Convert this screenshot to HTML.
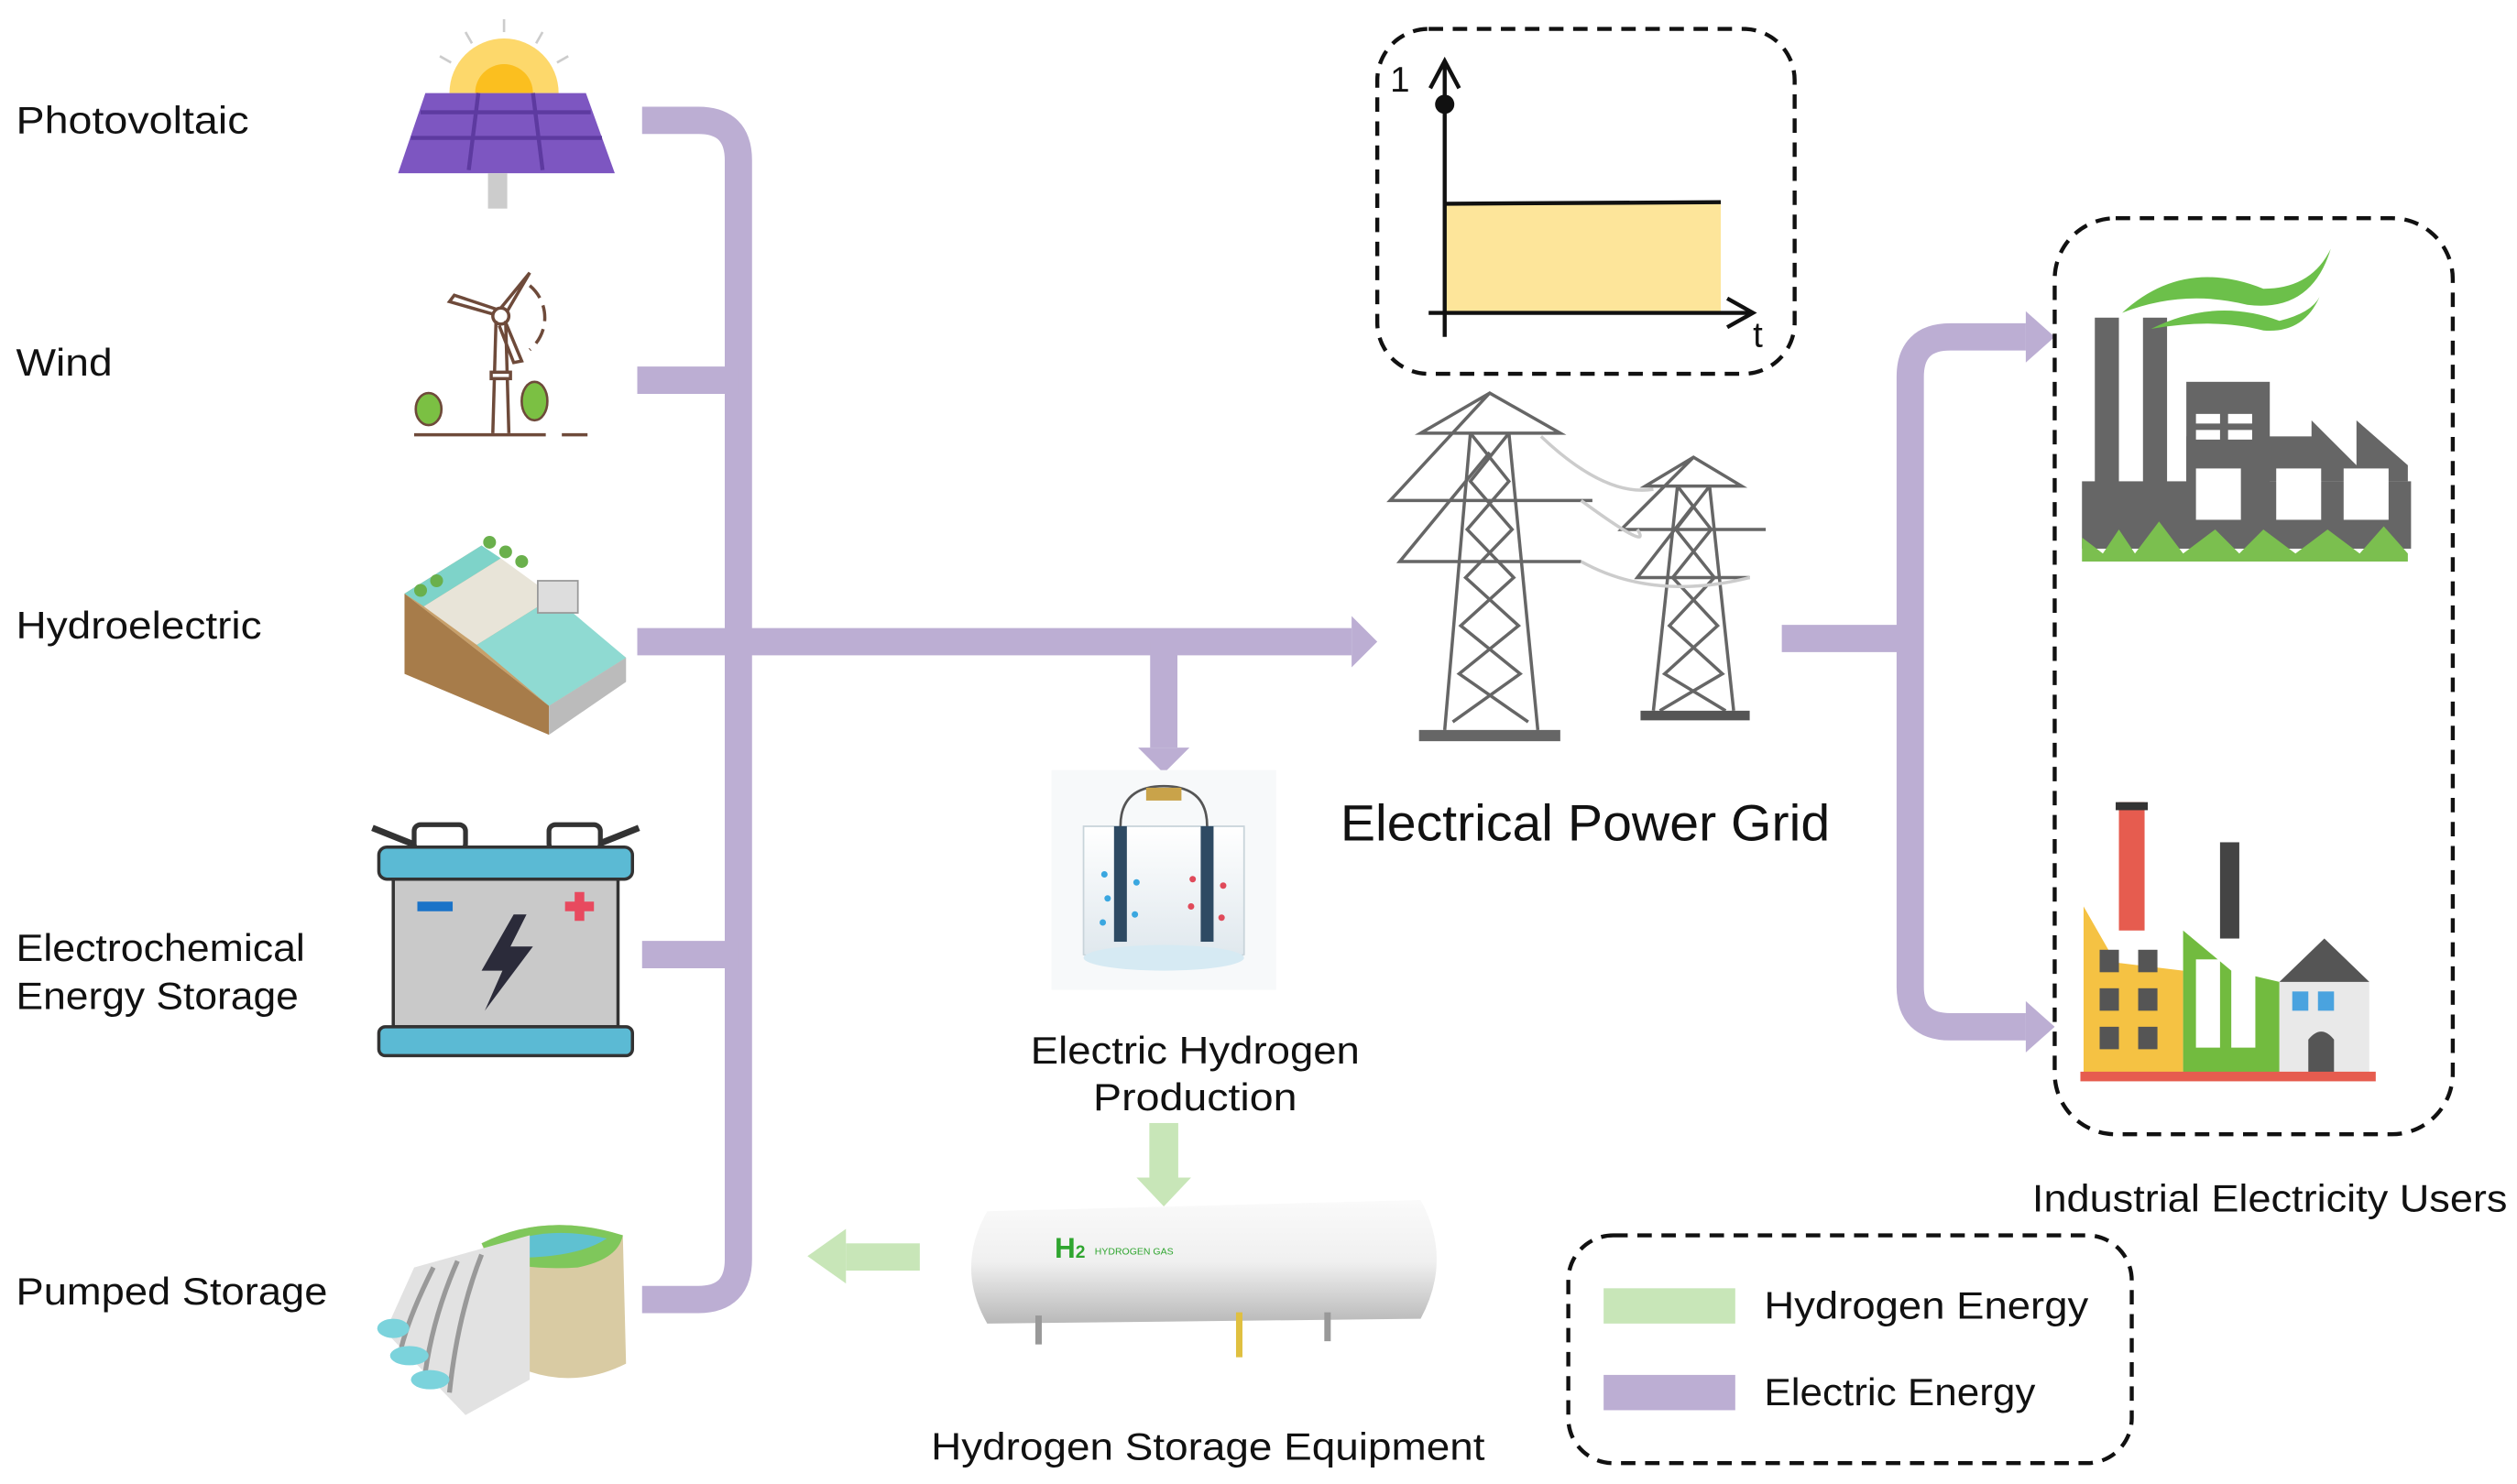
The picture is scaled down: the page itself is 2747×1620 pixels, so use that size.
<!DOCTYPE html>
<html><head><meta charset="utf-8">
<style>
html,body{margin:0;padding:0;background:#fff;}
svg{display:block;}
text{font-family:"Liberation Sans","DejaVu Sans",sans-serif;fill:#111;}
</style></head>
<body>
<svg width="2747" height="1620" viewBox="0 0 1568 925" preserveAspectRatio="none" xmlns="http://www.w3.org/2000/svg">
<defs>
<linearGradient id="tank" x1="0" y1="0" x2="0" y2="1">
<stop offset="0" stop-color="#fafafa"/><stop offset="0.5" stop-color="#f0f0f0"/><stop offset="1" stop-color="#b9b9b9"/>
</linearGradient>
<linearGradient id="beak" x1="0" y1="0" x2="0" y2="1">
<stop offset="0" stop-color="#ffffff"/><stop offset="1" stop-color="#dde6ec"/>
</linearGradient>
</defs>

<!-- labels left -->
<g font-size="24" lengthAdjust="spacingAndGlyphs">
<text x="10" y="83" textLength="145" lengthAdjust="spacingAndGlyphs">Photovoltaic</text>
<text x="10" y="234" textLength="60" lengthAdjust="spacingAndGlyphs">Wind</text>
<text x="10" y="398" textLength="153" lengthAdjust="spacingAndGlyphs">Hydroelectric</text>
<text x="10" y="599" textLength="180" lengthAdjust="spacingAndGlyphs">Electrochemical</text>
<text x="10" y="629" textLength="176" lengthAdjust="spacingAndGlyphs">Energy Storage</text>
<text x="10" y="813" textLength="194" lengthAdjust="spacingAndGlyphs">Pumped Storage</text>
</g>

<!-- purple bus -->
<g fill="none" stroke="#bcaed3" stroke-width="17">
<path d="M400 75 H435 Q460 75 460 100 V785 Q460 810 435 810 H400"/>
<path d="M397 237 H460"/>
<path d="M397 400 H842"/>
<path d="M400 595 H460"/>
<path d="M725 400 V466"/>
<path d="M1110 398 H1190"/>
<path d="M1262 210 H1215 Q1190 210 1190 235 V615 Q1190 640 1215 640 H1262"/>
</g>
<g fill="#bcaed3">
<polygon points="842,384 858,400 842,416"/>
<polygon points="709,466 741,466 725,482"/>
<polygon points="1262,194 1280,210 1262,226"/>
<polygon points="1262,624 1280,640 1262,656"/>
</g>
<!-- green arrows -->
<g fill="#c8e6b8">
<rect x="716" y="700" width="18" height="34"/>
<polygon points="708,734 742,734 725,752"/>
<rect x="527" y="775" width="46" height="17"/>
<polygon points="527,766 527,800 503,783"/>
</g>

<!-- solar -->
<g>
<path d="M280 58 A34 34 0 0 1 348 58 Z" fill="#fdd86b"/>
<path d="M296 58 A18 18 0 0 1 332 58 Z" fill="#fbbf1f"/>
<g stroke="#ccc" stroke-width="1.5"><line x1="314" y1="12" x2="314" y2="20"/><line x1="290" y1="20" x2="294" y2="27"/><line x1="338" y1="20" x2="334" y2="27"/><line x1="274" y1="35" x2="281" y2="39"/><line x1="354" y1="35" x2="347" y2="39"/></g>
<polygon points="265,58 365,58 383,108 248,108" fill="#7d56c1"/>
<g stroke="#5d3aa0" stroke-width="2.5"><line x1="262" y1="70" x2="368" y2="70"/><line x1="256" y1="86" x2="375" y2="86"/><line x1="298" y1="58" x2="292" y2="106"/><line x1="332" y1="58" x2="338" y2="106"/></g>
<rect x="304" y="108" width="12" height="22" fill="#ccc"/>
</g>

<!-- wind -->
<g stroke="#6e4a3a" stroke-width="2" fill="none">
<line x1="258" y1="271" x2="340" y2="271"/><line x1="350" y1="271" x2="366" y2="271"/>
<line x1="309" y1="200" x2="307" y2="270"/><line x1="315" y1="200" x2="317" y2="270"/>
<circle cx="312" cy="197" r="5"/>
<path d="M312 192 L330 170 L316 194"/><path d="M308 196 L280 188 L283 184 L310 193"/><path d="M315 201 L325 225 L320 226 L311 203"/>
<path d="M330 178 A26 26 0 0 1 330 218" stroke-dasharray="10 5"/>
<rect x="306" y="232" width="12" height="4" fill="#fff"/>
</g>
<g fill="#7bc043" stroke="#6e4a3a" stroke-width="1.5"><ellipse cx="267" cy="255" rx="8" ry="10"/><ellipse cx="333" cy="250" rx="8" ry="12"/></g>

<!-- hydro -->
<g>
<polygon points="252,370 300,340 390,410 342,440" fill="#c8a06a"/>
<polygon points="252,370 300,340 312,348 264,378" fill="#7ed3c9"/>
<polygon points="264,378 312,348 345,372 297,402" fill="#e8e4d8"/>
<polygon points="297,402 345,372 390,410 342,440" fill="#8fdad2"/>
<polygon points="252,370 252,420 342,458 342,440" fill="#a77c4a"/>
<polygon points="342,440 390,410 390,425 342,458" fill="#bbb"/>
<rect x="335" y="362" width="25" height="20" fill="#ddd" stroke="#999"/>
<g fill="#6ab04c"><circle cx="262" cy="368" r="4"/><circle cx="272" cy="362" r="4"/><circle cx="305" cy="338" r="4"/><circle cx="315" cy="344" r="4"/><circle cx="325" cy="350" r="4"/></g>
</g>

<!-- battery -->
<g>
<path d="M232 516 L262 528 M398 516 L368 528" stroke="#333" stroke-width="4"/>
<rect x="258" y="514" width="32" height="16" rx="4" fill="#fff" stroke="#333" stroke-width="3"/>
<rect x="342" y="514" width="32" height="16" rx="4" fill="#fff" stroke="#333" stroke-width="3"/>
<rect x="236" y="528" width="158" height="20" rx="5" fill="#5bbad4" stroke="#333" stroke-width="2"/>
<rect x="245" y="548" width="140" height="92" fill="#c9c9c9" stroke="#333" stroke-width="2"/>
<rect x="236" y="640" width="158" height="18" rx="4" fill="#5bbad4" stroke="#333" stroke-width="2"/>
<rect x="260" y="562" width="22" height="6" fill="#1a73c8"/>
<path d="M352 565 h18 M361 556 v18" stroke="#e84a5f" stroke-width="6"/>
<polygon points="320,570 300,605 313,605 302,630 332,590 318,590 328,570" fill="#2b2b3a"/>
</g>

<!-- pumped storage -->
<g>
<path d="M300 775 Q340 755 388 770 L390 850 Q360 865 330 855 Z" fill="#d9cba3"/>
<path d="M300 775 Q340 755 388 770 Q385 785 360 790 Q330 792 305 785Z" fill="#7fc75b"/>
<path d="M310 777 Q340 763 378 772 Q360 784 320 784Z" fill="#5fc1d1"/>
<polygon points="258,790 330,770 330,860 290,882 240,830" fill="#e2e2e2"/>
<g stroke="#999" stroke-width="3" fill="none"><path d="M270 790 Q255 820 250 840"/><path d="M285 786 Q270 820 265 855"/><path d="M300 782 Q285 820 280 868"/></g>
<g fill="#7bd3dc"><ellipse cx="245" cy="828" rx="10" ry="6"/><ellipse cx="255" cy="845" rx="12" ry="6"/><ellipse cx="268" cy="860" rx="12" ry="6"/></g>
</g>

<!-- chart box -->
<rect x="858" y="18" width="260" height="215" rx="32" fill="none" stroke="#111" stroke-width="2.5" stroke-dasharray="9 6"/>
<rect x="901" y="127" width="171" height="68" fill="#fde59a"/>
<line x1="901" y1="127" x2="1072" y2="126" stroke="#111" stroke-width="2.5"/>
<line x1="900" y1="40" x2="900" y2="210" stroke="#111" stroke-width="2.5"/>
<polyline points="891,55 900,38 909,55" fill="none" stroke="#111" stroke-width="2.5"/>
<line x1="890" y1="195" x2="1090" y2="195" stroke="#111" stroke-width="2.5"/>
<polyline points="1076,186 1092,195 1076,204" fill="none" stroke="#111" stroke-width="2.5"/>
<circle cx="900" cy="65" r="6" fill="#111"/>
<text x="866" y="57" font-size="22">1</text>
<text x="1092" y="216" font-size="22">t</text>

<!-- towers -->
<g stroke="#666" stroke-width="2" fill="none">
<path d="M928 245 L885 270 L972 270 Z M928 245 L866 312 L992 312 M928 282 L872 350 L985 350"/>
<path d="M916 270 L900 455 M940 270 L958 455"/>
<path d="M916 270 L940 300 L914 330 L943 360 L910 390 L947 420 L905 450 M940 270 L916 300 L942 330 L913 360 L946 390 L909 420 L952 450"/>
<path d="M1055 285 L1025 303 L1085 303 Z M1055 285 L1010 330 L1100 330 M1055 315 L1020 360 L1090 360"/>
<path d="M1045 303 L1030 443 M1065 303 L1080 443"/>
<path d="M1045 303 L1066 330 L1042 360 L1070 390 L1037 420 L1075 443 M1065 303 L1044 330 L1068 360 L1040 390 L1073 420 L1034 443"/>
<path d="M960 272 Q1000 310 1030 305 M985 312 Q1030 345 1020 330 M985 350 Q1030 375 1090 360" stroke="#ccc"/>
</g>
<rect x="884" y="455" width="88" height="7" fill="#666"/>
<rect x="1022" y="443" width="68" height="6" fill="#555"/>
<text x="835" y="524" font-size="32" textLength="305" lengthAdjust="spacingAndGlyphs">Electrical Power Grid</text>

<!-- electrolysis -->
<g>
<rect x="655" y="480" width="140" height="137" fill="#f7f9fa"/>
<path d="M675 515 L775 515 L775 595 Q725 610 675 595 Z" fill="url(#beak)" stroke="#c8d4da"/>
<ellipse cx="725" cy="597" rx="50" ry="8" fill="#d6eaf3"/>
<path d="M698 515 Q698 490 725 490 Q752 490 752 515" fill="none" stroke="#555" stroke-width="1.5"/>
<rect x="714" y="491" width="22" height="8" fill="#c9a34a"/>
<rect x="694" y="515" width="8" height="72" fill="#2e4a63"/>
<rect x="748" y="515" width="8" height="72" fill="#2e4a63"/>
<g fill="#3aa7e0"><circle cx="688" cy="545" r="2"/><circle cx="690" cy="560" r="2"/><circle cx="687" cy="575" r="2"/><circle cx="708" cy="550" r="2"/><circle cx="707" cy="570" r="2"/></g>
<g fill="#e04a5a"><circle cx="743" cy="548" r="2"/><circle cx="742" cy="565" r="2"/><circle cx="762" cy="552" r="2"/><circle cx="761" cy="572" r="2"/></g>
</g>
<text x="642" y="663" font-size="24" textLength="205" lengthAdjust="spacingAndGlyphs">Electric Hydrogen</text>
<text x="681" y="692" font-size="24" textLength="127" lengthAdjust="spacingAndGlyphs">Production</text>

<!-- tank -->
<g>
<path d="M615 755 L885 748 Q905 785 885 822 L615 825 Q595 790 615 755 Z" fill="url(#tank)"/>
<rect x="770" y="818" width="4" height="28" fill="#e0c040"/>
<rect x="645" y="820" width="4" height="18" fill="#999"/><rect x="825" y="818" width="4" height="18" fill="#999"/>
<text x="657" y="784" font-size="18" font-weight="bold" style="fill:#2fa52f">H<tspan font-size="11">2</tspan></text>
<text x="682" y="782" font-size="6" style="fill:#2fa52f">HYDROGEN GAS</text>
</g>
<text x="580" y="910" font-size="24" textLength="345" lengthAdjust="spacingAndGlyphs">Hydrogen Storage Equipment</text>

<!-- right dashed box -->
<rect x="1280" y="136" width="248" height="571" rx="38" fill="none" stroke="#111" stroke-width="2.5" stroke-dasharray="9 6"/>
<!-- factory 1 -->
<g fill="#666">
<rect x="1305" y="198" width="15" height="140"/>
<rect x="1335" y="198" width="15" height="140"/>
<rect x="1297" y="300" width="205" height="42"/>
<rect x="1362" y="238" width="52" height="70"/>
<polygon points="1362,272 1440,272 1440,262 1468,290 1468,262 1500,290 1500,300 1362,300"/>
</g>
<g fill="#fff"><rect x="1368" y="258" width="15" height="6"/><rect x="1388" y="258" width="15" height="6"/><rect x="1368" y="268" width="15" height="6"/><rect x="1388" y="268" width="15" height="6"/>
<rect x="1368" y="292" width="28" height="32"/><rect x="1418" y="292" width="28" height="32"/><rect x="1460" y="292" width="28" height="32"/></g>
<path d="M1297 350 L1297 335 L1310 345 L1320 330 L1330 345 L1345 325 L1360 345 L1380 330 L1395 345 L1410 330 L1430 345 L1450 330 L1470 345 L1485 328 L1500 345 L1500 350 Z" fill="#7bbf4f"/>
<path d="M1322 195 Q1360 160 1410 180 Q1440 180 1452 155 Q1440 195 1400 190 Q1360 180 1322 195Z M1340 205 Q1380 185 1420 200 Q1440 195 1445 185 Q1435 208 1410 206 Q1380 198 1340 205Z" fill="#6cc04a"/>
<!-- factory 2 -->
<g>
<rect x="1320" y="500" width="16" height="80" fill="#e65c4f"/><rect x="1318" y="500" width="20" height="5" fill="#333"/>
<rect x="1383" y="525" width="12" height="60" fill="#444"/>
<polygon points="1298,565 1318,600 1360,605 1360,672 1298,672" fill="#f5c243"/>
<polygon points="1360,580 1390,605 1420,612 1420,672 1360,672" fill="#72bb3f"/>
<polygon points="1420,612 1448,585 1476,612 1476,672 1420,672" fill="#e9e9e9"/>
<polygon points="1420,612 1448,585 1476,612" fill="#555"/>
<g fill="#555"><rect x="1308" y="592" width="12" height="14"/><rect x="1332" y="592" width="12" height="14"/><rect x="1308" y="616" width="12" height="14"/><rect x="1332" y="616" width="12" height="14"/><rect x="1308" y="640" width="12" height="14"/><rect x="1332" y="640" width="12" height="14"/></g>
<rect x="1368" y="598" width="15" height="55" fill="#fff"/><rect x="1390" y="598" width="15" height="55" fill="#fff"/>
<rect x="1428" y="618" width="10" height="12" fill="#4aa3df"/><rect x="1444" y="618" width="10" height="12" fill="#4aa3df"/>
<path d="M1438 672 V648 Q1446 638 1454 648 V672 Z" fill="#555"/>
<rect x="1296" y="668" width="184" height="6" fill="#e65c4f"/>
</g>
<text x="1266" y="755" font-size="24" textLength="296" lengthAdjust="spacingAndGlyphs">Industrial Electricity Users</text>

<!-- legend -->
<rect x="977" y="770" width="351" height="142" rx="28" fill="none" stroke="#111" stroke-width="2.5" stroke-dasharray="9 6"/>
<rect x="999" y="803" width="82" height="22" fill="#c8e6b8"/>
<rect x="999" y="857" width="82" height="22" fill="#bcaed3"/>
<text x="1099" y="822" font-size="24" textLength="202" lengthAdjust="spacingAndGlyphs">Hydrogen Energy</text>
<text x="1099" y="876" font-size="24" textLength="169" lengthAdjust="spacingAndGlyphs">Electric Energy</text>
</svg>
</body></html>
